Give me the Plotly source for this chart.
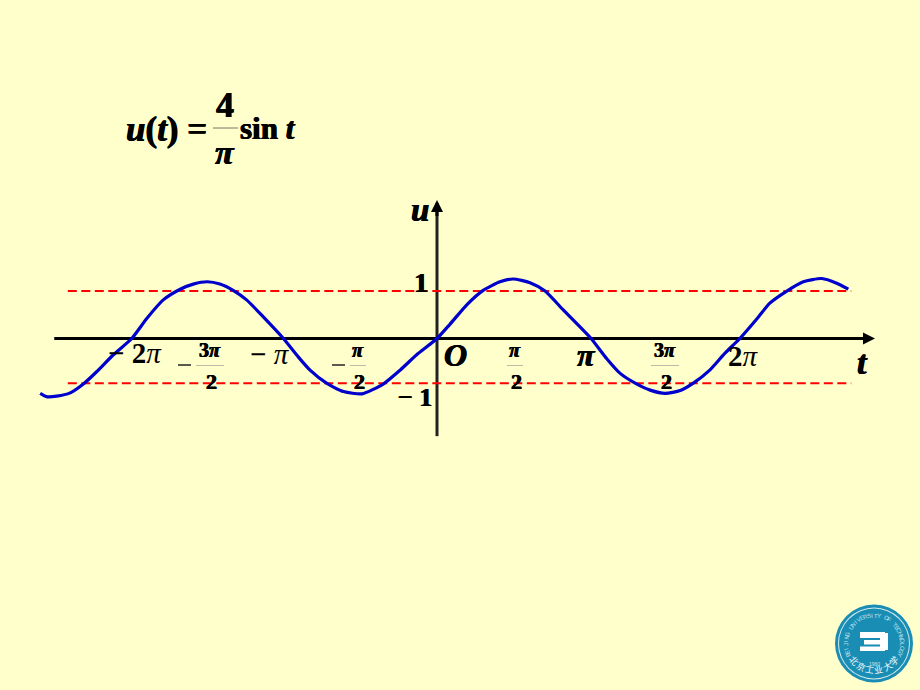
import math
import plotly.graph_objects as go

# Curve values
t_values = [-8.19,-8.06,-7.85,-7.57,-7.30,-7.02,-6.68,-6.30,-5.99,-5.65,-5.30,-5.03,-4.74,-4.48,-4.20,-3.93,-3.59,-3.17,
            -2.86,-2.62,-2.28,-1.93,-1.55,-1.11,-0.76,-0.42,0,0.27,0.61,0.96,1.30,1.57,1.92,2.23,2.61,3.18,
            3.50,3.78,4.09,4.40,4.71,5.02,5.29,5.63,5.94,6.25,6.60,6.87,7.22,7.56,7.94,8.25,8.49]
u_values = [-1.18,-1.25,-1.24,-1.17,-0.98,-0.71,-0.35,0,0.43,0.83,1.06,1.17,1.22,1.17,1.03,0.83,0.47,0,
            -0.40,-0.68,-0.96,-1.14,-1.19,-0.98,-0.68,-0.35,0,0.31,0.72,1.04,1.22,1.28,1.20,1.02,0.61,0,
            -0.43,-0.75,-0.96,-1.11,-1.18,-1.12,-0.96,-0.68,-0.32,0,0.42,0.76,1.02,1.22,1.29,1.19,1.06]
dash_t = [-7.62, 8.55]
dash_upper = [1.02, 1.02]
dash_lower = [-0.96, -0.96]
xaxis_t = [-7.9, 8.95]
yaxis_u = [-2.1, 2.85]

W, H = 920, 690
X0, XU = 437, 48.45
Y0, YU = 338.5, 46.5
BG = "#FFFFCC"
SERIF = "Liberation Serif, Times New Roman, serif"
HEAVY = "0.5px 0 0 black, -0.5px 0 0 black"

fig = go.Figure()
fig.add_trace(go.Scatter(x=xaxis_t, y=[0, 0], mode="lines", line=dict(color="black", width=3), hoverinfo="skip"))
fig.add_trace(go.Scatter(x=[0, 0], y=yaxis_u, mode="lines", line=dict(color="#222222", width=3), hoverinfo="skip"))
for uu in (dash_upper, dash_lower):
    fig.add_trace(go.Scatter(x=dash_t, y=uu, mode="lines", line=dict(color="#FF0000", width=2, dash="9px,4.5px"), hoverinfo="skip"))
fig.add_trace(go.Scatter(x=t_values, y=u_values, mode="lines", line=dict(color="#0000CC", width=3.2, shape="spline", smoothing=0.6), hoverinfo="skip"))

anns = []
def arrow(x, y, ax, ay):
    anns.append(dict(x=x, y=y, ax=ax, ay=ay, xref="x", yref="y", axref="x", ayref="y", text="", showarrow=True,
                     arrowhead=2, arrowsize=0.8, arrowwidth=3, arrowcolor="black"))
arrow(9.04, 0, 8.7, 0)
arrow(0, 2.98, 0, 2.6)

def txt(px, py, s, size, font=SERIF, color="black", angle=0, shadow=HEAVY):
    f = dict(family=font, size=size, color=color)
    if shadow:
        f["shadow"] = shadow
    anns.append(dict(x=px / W, y=1 - py / H, xref="paper", yref="paper", text=s, showarrow=False,
                     font=f, xanchor="center", yanchor="middle", textangle=angle))

# Formula
txt(166, 130, "<b><i>u</i>(<i>t</i>) =</b>", 35)
txt(225, 105, "<b>4</b>", 36)
txt(225, 152, "<b><i>π</i></b>", 34)
txt(268, 128, "<b>sin <i>t</i></b>", 31)

# Axis and tick labels
txt(420, 210, "<b><i>u</i></b>", 33)
txt(862, 362, "<b><i>t</i></b>", 34)
txt(455, 355, "<b><i>O</i></b>", 32)
txt(421, 282, "<b>1</b>", 28)
txt(415, 397, "<b>− 1</b>", 26)
txt(135, 353, "<b>− 2</b><i>π</i>", 29, shadow=None)
txt(270, 354, "<b>−</b> <i>π</i>", 29, shadow=None)
txt(586, 355, "<b><i>π</i></b>", 32)
txt(743, 356, "<b>2</b><i>π</i>", 29, shadow=None)
fractions = [(210, 350, 381, "<b>3<i>π</i></b>", True), (358, 350, 382, "<b><i>π</i></b>", True),
             (515, 350, 382, "<b><i>π</i></b>", False), (665, 350, 382, "<b>3<i>π</i></b>", False)]
shapes = []
def px_shape(kind, x0, y0, x1, y1, fill=None, line=None, lw=0):
    shapes.append(dict(type=kind, xref="paper", yref="paper", x0=x0 / W, x1=x1 / W, y0=1 - y0 / H, y1=1 - y1 / H,
                       fillcolor=fill, line=dict(color=line, width=lw), layer="above"))
for cx, ny, dy, s, neg in fractions:
    txt(cx, ny, s, 20)
    txt(cx + 1, dy, "<b>2</b>", 22)
    half = 14 if "3" in s else 8
    px_shape("line", cx - half, 365.5, cx + half, 365.5, line="#BBBBAA", lw=1)
    if neg:
        px_shape("line", cx - half - 18, 365, cx - half - 5, 365, line="#222222", lw=1.5)
px_shape("line", 213, 128, 238, 128, line="#777766", lw=1)

# Emblem
cx, cy = 874, 643.5
def circ(r, fill):
    px_shape("circle", cx - r, cy - r, cx + r, cy + r, fill=fill)
circ(39, "#1A8DB5")
circ(36, "#CFE9EC")
circ(35, "#1A8DB5")
px_shape("rect", 860, 632, 885, 638, fill="white")
px_shape("rect", 864, 640, 886, 644.5, fill="white")
px_shape("rect", 860, 646.5, 885, 651, fill="white")
px_shape("rect", 880, 633, 888, 650, fill="white")
px_shape("rect", 872, 638.3, 880, 639.7, fill="#1A8DB5")
motto = "BEIJING UNIVERSITY OF TECHNOLOGY"
for i, ch in enumerate(motto):
    a = math.radians(-115 + 230 * i / (len(motto) - 1))
    txt(cx + 28 * math.sin(a), cy - 28 * math.cos(a), ch, 6, font="Liberation Sans", color="#BFE3EA", angle=math.degrees(a), shadow=None)
cn = "北京工业大学"
for i, ch in enumerate(cn):
    a = math.radians(-50 + 100 * i / (len(cn) - 1))
    txt(cx + 26 * math.sin(a), cy + 26 * math.cos(a), ch, 9, font="Noto Sans CJK SC", color="#F2FAFA", angle=-math.degrees(a), shadow=None)
txt(cx, 664, "1960", 5, font="Liberation Sans", color="#CFE9EC", shadow=None)

fig.update_layout(
    width=W, height=H, margin=dict(l=0, r=0, t=0, b=0), paper_bgcolor=BG, plot_bgcolor=BG, showlegend=False,
    xaxis=dict(range=[-X0 / XU, (W - X0) / XU], visible=False, fixedrange=True),
    yaxis=dict(range=[-(H - Y0) / YU, Y0 / YU], visible=False, fixedrange=True),
    annotations=anns, shapes=shapes,
)
fig.write_html("out.html", config={"displayModeBar": False},
               post_script="document.body.style.margin='0';document.body.style.overflow='hidden';")
